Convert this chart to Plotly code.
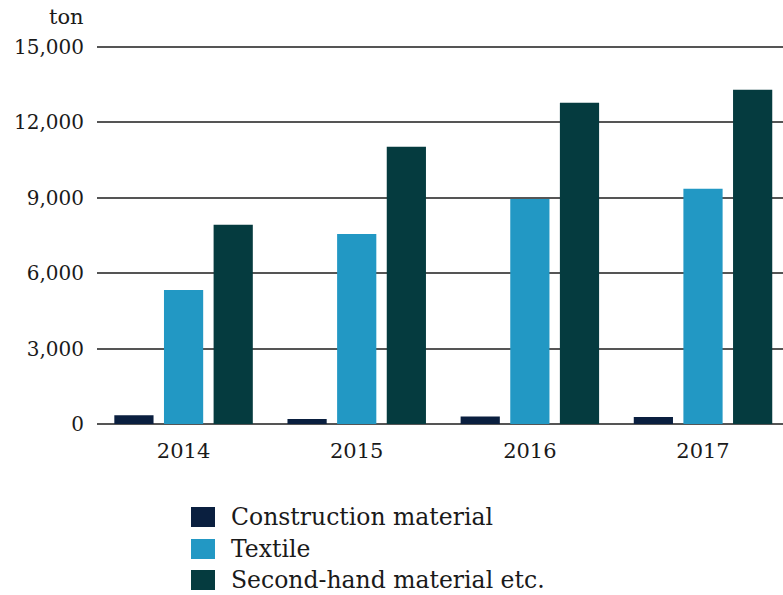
import plotly.graph_objects as go

years = ["2014", "2015", "2016", "2017"]
series_names = ["Construction material", "Textile", "Second-hand material etc."]
construction = [350, 200, 300, 280]
textile = [5330, 7560, 8950, 9350]
second_hand = [7920, 11020, 12770, 13290]
colors = ["#0a1f3f", "#2298c4", "#053b3f"]
y_ticks = [0, 3000, 6000, 9000, 12000, 15000]

FONT = "DejaVu Serif"
TXT = "#1a1a1a"
fig = go.Figure()
for name, vals, col in zip(series_names, [construction, textile, second_hand], colors):
    fig.add_trace(go.Bar(x=years, y=vals, name=name, marker=dict(color=col, line=dict(width=0)),
                         showlegend=False))

# manual legend
legend_y = [517, 549, 580]
for name, col, yy in zip(series_names, colors, legend_y):
    fig.add_shape(type="rect", xref="paper", yref="paper",
                  x0=(191 - 97) / 686, x1=(215 - 97) / 686,
                  y0=(595 - 171 - (yy + 10)) / 381, y1=(595 - 171 - (yy - 10)) / 381,
                  fillcolor=col, line=dict(width=0))
    fig.add_annotation(text=name, xref="paper", yref="paper",
                       x=(229 - 97) / 686, y=(595 - 171 - yy) / 381,
                       xanchor="left", yanchor="middle", showarrow=False,
                       font=dict(family=FONT, size=23.5, color=TXT))

fig.add_annotation(text="ton", xref="paper", yref="paper", x=(86 - 97) / 686,
                   y=(595 - 171 - 17) / 381, xanchor="right", yanchor="middle",
                   showarrow=False, font=dict(family=FONT, size=21, color=TXT))

fig.update_layout(
    width=783, height=595,
    margin=dict(l=97, r=0, t=43, b=171),
    plot_bgcolor="white", paper_bgcolor="white",
    barmode="group", bargap=0.14, bargroupgap=0.21,
    font=dict(family=FONT, size=20, color=TXT),
    xaxis=dict(range=[-0.5, 3.462], showgrid=False, showline=False, zeroline=False,
               ticks="outside", ticklen=8, tickcolor="rgba(0,0,0,0)",
               tickfont=dict(family=FONT, size=21, color=TXT)),
    yaxis=dict(range=[0, 15150], tickvals=y_ticks, tickformat=",", showgrid=True,
               gridcolor="#555", gridwidth=2, zeroline=True, zerolinecolor="#555",
               zerolinewidth=2, showline=False, ticks="outside", ticklen=8,
               tickcolor="rgba(0,0,0,0)",
               tickfont=dict(family=FONT, size=20, color=TXT)),
)

fig.write_html("out.html")
